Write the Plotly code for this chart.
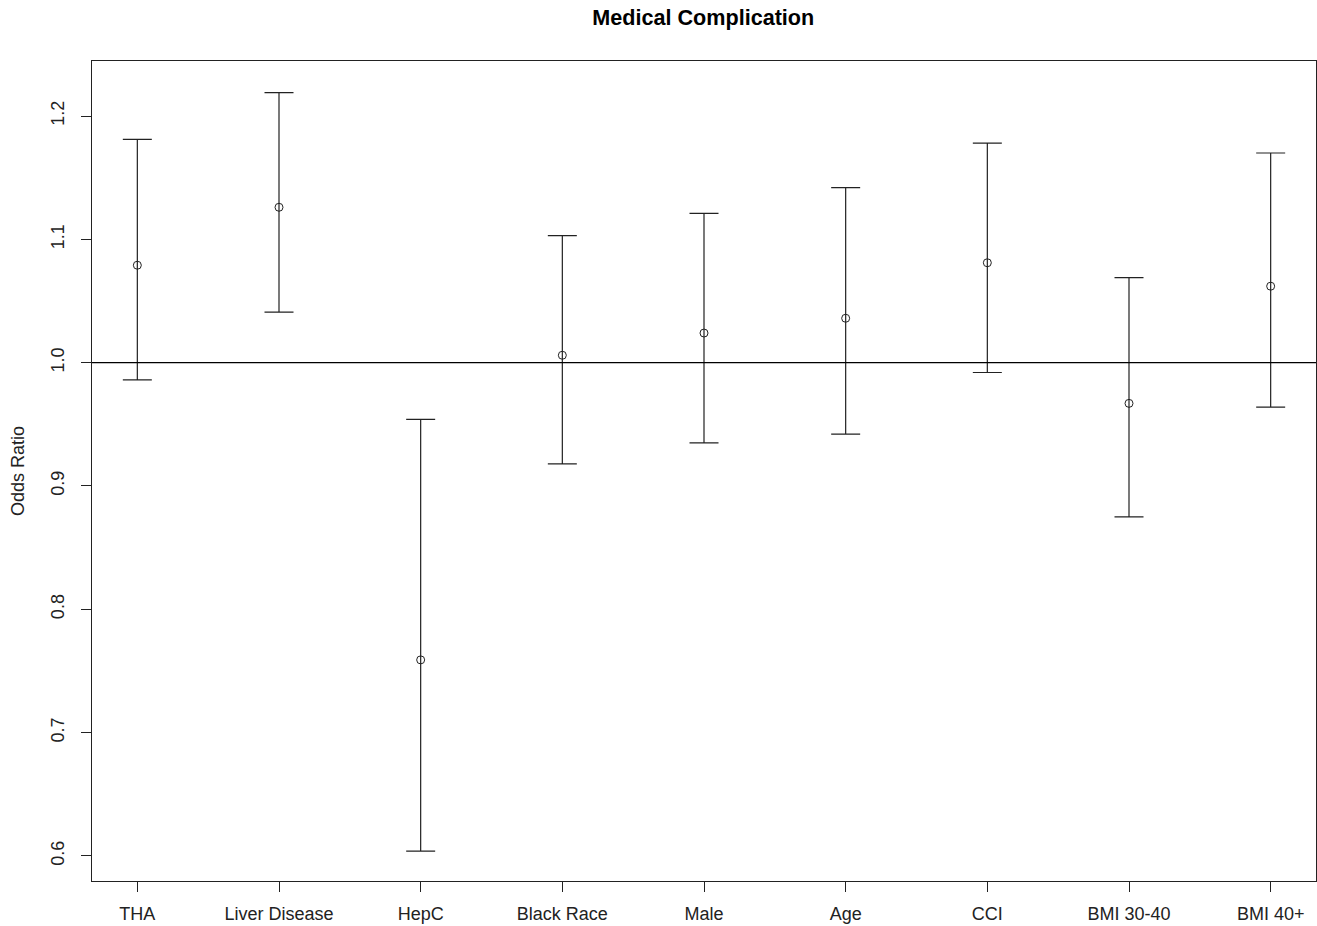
import plotly.graph_objects as go

categories = ["THA", "Liver Disease", "HepC", "Black Race", "Male", "Age", "CCI", "BMI 30-40", "BMI 40+"]
odds_ratio = [1.079, 1.126, 0.759, 1.006, 1.024, 1.036, 1.081, 0.967, 1.062]
ci_upper = [1.181, 1.219, 0.954, 1.103, 1.121, 1.142, 1.178, 1.069, 1.170]
ci_lower = [0.986, 1.041, 0.604, 0.918, 0.935, 0.942, 0.992, 0.875, 0.964]
y_ticks = [0.6, 0.7, 0.8, 0.9, 1.0, 1.1, 1.2]
y_tick_labels = ["0.6", "0.7", "0.8", "0.9", "1.0", "1.1", "1.2"]

xpos = list(range(1, len(categories) + 1))
err_plus = [u - p for u, p in zip(ci_upper, odds_ratio)]
err_minus = [p - l for p, l in zip(odds_ratio, ci_lower)]

fig = go.Figure()
fig.add_trace(go.Scatter(
    x=xpos, y=odds_ratio, mode="markers",
    marker=dict(symbol="circle-open", size=8, color="#222222", line=dict(width=1, color="#222222")),
    error_y=dict(type="data", symmetric=False, array=err_plus, arrayminus=err_minus,
                 color="#222222", thickness=1.2, width=14.5),
    showlegend=False, hoverinfo="skip"
))

fig.add_hline(y=1.0, line=dict(color="black", width=1.3))

font = "Liberation Sans, Arial, sans-serif"
fig.update_layout(
    width=1317, height=926,
    paper_bgcolor="white", plot_bgcolor="white",
    margin=dict(l=92, r=1, t=61, b=45),
    title=dict(text="<b>Medical Complication</b>", x=0.534, xanchor="center", y=0.981, yanchor="middle",
               font=dict(family=font, size=21.6, color="black")),
    font=dict(family=font, size=18, color="#222222"),
    xaxis=dict(range=[0.68, 9.32], tickmode="array", tickvals=xpos, ticktext=categories,
               showgrid=False, zeroline=False, showline=True, mirror=True, linecolor="#222222", linewidth=1,
               ticks="outside", ticklen=10, tickcolor="#222222", tickfont=dict(size=18, family=font),
               ticklabelstandoff=6),
    yaxis=dict(range=[0.5797, 1.2446], tickmode="array", tickvals=y_ticks, ticktext=y_tick_labels,
               showgrid=False, zeroline=False, showline=True, mirror=True, linecolor="#222222", linewidth=1,
               ticks="outside", ticklen=10, tickcolor="#222222", tickangle=-90,
               tickfont=dict(size=18, family=font), ticklabelstandoff=10,
               title=dict(text="Odds Ratio", font=dict(size=18, family=font), standoff=18)),
)

fig.write_html("out.html", config={"displayModeBar": False},
               post_script="document.body.style.margin='0';document.body.style.overflow='hidden';")
